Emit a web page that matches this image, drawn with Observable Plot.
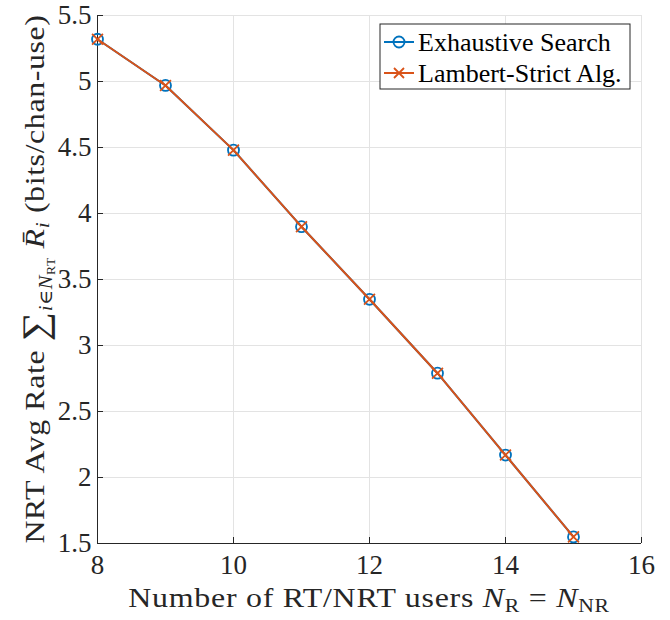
<!DOCTYPE html>
<html><head><meta charset="utf-8">
<script src="https://cdn.jsdelivr.net/npm/d3@7"></script>
<script src="https://cdn.jsdelivr.net/npm/@observablehq/plot@0.6"></script>
<style>
body{margin:0;background:#fff}
</style>
</head><body><div id="chart"></div>
<script>
const users = [8, 9, 10, 11, 12, 13, 14, 15];
const exhaustive = [5.32, 4.97, 4.48, 3.90, 3.35, 2.79, 2.17, 1.55];
const lambert = [5.32, 4.97, 4.48, 3.90, 3.35, 2.79, 2.17, 1.55];
const xTicks = [8, 10, 12, 14, 16];
const yTicks = [1.5, 2, 2.5, 3, 3.5, 4, 4.5, 5, 5.5];
const seriesNames = ["Exhaustive Search", "Lambert-Strict Alg."];
const colors = ["#0072BD", "#D95319"];

const exData = users.map((u, i) => ({x: u, y: exhaustive[i]}));
const laData = users.map((u, i) => ({x: u, y: lambert[i]}));

const axisColor = "#262626";
const font = "'Liberation Serif', 'Times New Roman', Times, 'DejaVu Serif', serif";

const plot = Plot.plot({
  width: 670, height: 620,
  marginLeft: 97, marginRight: 29, marginTop: 15, marginBottom: 77,
  style: {fontFamily: font, fontSize: "27px", background: "white", color: axisColor, overflow: "visible"},
  x: {domain: [8, 16], label: null},
  y: {domain: [1.5, 5.5], label: null},
  marks: [
    Plot.gridX(xTicks, {stroke: "#e3e3e3", strokeOpacity: 1, strokeWidth: 1}),
    Plot.gridY(yTicks, {stroke: "#e3e3e3", strokeOpacity: 1, strokeWidth: 1}),
    Plot.axisX(xTicks, {tickSize: 6, dy: -6, text: null, stroke: axisColor}),
    Plot.axisY(yTicks, {tickSize: 6, dx: 6, text: null, stroke: axisColor}),
    Plot.axisX(xTicks, {tickSize: 0, tickPadding: 11, fill: axisColor, fontSize: 27, tickFormat: d => String(d)}),
    Plot.axisY(yTicks, {tickSize: 0, tickPadding: 6, fill: axisColor, fontSize: 27, tickFormat: d => String(d)}),
    Plot.ruleX([8], {stroke: axisColor, strokeWidth: 1}),
    Plot.ruleY([1.5], {stroke: axisColor, strokeWidth: 1}),
    Plot.line(exData, {x: "x", y: "y", stroke: colors[0], strokeWidth: 2}),
    Plot.dot(exData, {x: "x", y: "y", stroke: colors[0], r: 5.5, strokeWidth: 1.8, fill: "none"}),
    Plot.line(laData, {x: "x", y: "y", stroke: colors[1], strokeWidth: 2}),
    Plot.dot(laData, {x: "x", y: "y", stroke: colors[1], symbol: "times", r: 5, strokeWidth: 1.8})
  ]
});

const svg = d3.select(plot);

// x-axis label
const xl = svg.append("text")
  .attr("text-anchor", "middle")
  .attr("font-size", 28).attr("fill", axisColor);
xl.append("tspan").text("Number of RT/NRT users ");
xl.append("tspan").attr("font-style", "italic").text("N");
xl.append("tspan").attr("font-size", 19).attr("dy", 5).text("R");
xl.append("tspan").attr("dy", -5).text(" = ");
xl.append("tspan").attr("font-style", "italic").text("N");
xl.append("tspan").attr("font-size", 19).attr("dy", 5).text("NR");

// y-axis label
const yl = svg.append("text")
  .attr("text-anchor", "middle")
  .attr("font-size", 28).attr("fill", axisColor);
yl.append("tspan").text("NRT Avg Rate ");
yl.append("tspan").attr("font-size", 36).attr("dy", 3).text("∑");
yl.append("tspan").attr("font-size", 18).attr("dy", 5).attr("font-style", "italic").text("i");
yl.append("tspan").attr("font-size", 18).text("∈");
yl.append("tspan").attr("font-size", 18).attr("font-style", "italic").text("N");
yl.append("tspan").attr("font-size", 12).attr("dy", 3).text("RT");
yl.append("tspan").attr("dy", -11).text(" ");
yl.append("tspan").attr("font-style", "italic").text("R\u0304");
yl.append("tspan").attr("font-size", 19).attr("dy", 5).attr("font-style", "italic").text("i");
yl.append("tspan").attr("dy", -5).text(" (bits/chan-use)");

// legend
const lg = svg.append("g");
lg.append("rect").attr("x", 380).attr("y", 24).attr("width", 250).attr("height", 65)
  .attr("fill", "white").attr("stroke", axisColor).attr("stroke-width", 1);
const rows = [42, 73];
seriesNames.forEach((name, i) => {
  const y = rows[i];
  lg.append("line").attr("x1", 384).attr("x2", 414).attr("y1", y).attr("y2", y)
    .attr("stroke", colors[i]).attr("stroke-width", 2);
  if (i === 0) {
    lg.append("circle").attr("cx", 399).attr("cy", y).attr("r", 5.5)
      .attr("fill", "none").attr("stroke", colors[i]).attr("stroke-width", 1.8);
  } else {
    lg.append("path").attr("d", `M${394},${y-5}L${404},${y+5}M${394},${y+5}L${404},${y-5}`)
      .attr("stroke", colors[i]).attr("stroke-width", 1.8);
  }
  lg.append("text").attr("x", 418).attr("y", y).attr("dy", "0.35em")
    .attr("text-anchor", "start")
    .attr("font-size", 26).attr("fill", "#000").text(name);
});

svg.selectAll("text, tspan").style("font-family", font);

document.getElementById("chart").appendChild(plot);

// widen labels toward the reference extents (the LaTeX font is wider than Times)
function fit(sel, target, base) {
  const s = 1.14;
  const w = sel.node().getBBox().width;
  const n = sel.node().getNumberOfChars();
  const ls = Math.max(0, (target / s - w) / n);
  sel.attr("letter-spacing", ls.toFixed(2));
  sel.attr("transform", `${base} scale(${s},1)`);
}
fit(xl, 482, "translate(369,607)");
fit(yl, 530, "translate(44,279) rotate(-90)");
</script>
</body></html>
